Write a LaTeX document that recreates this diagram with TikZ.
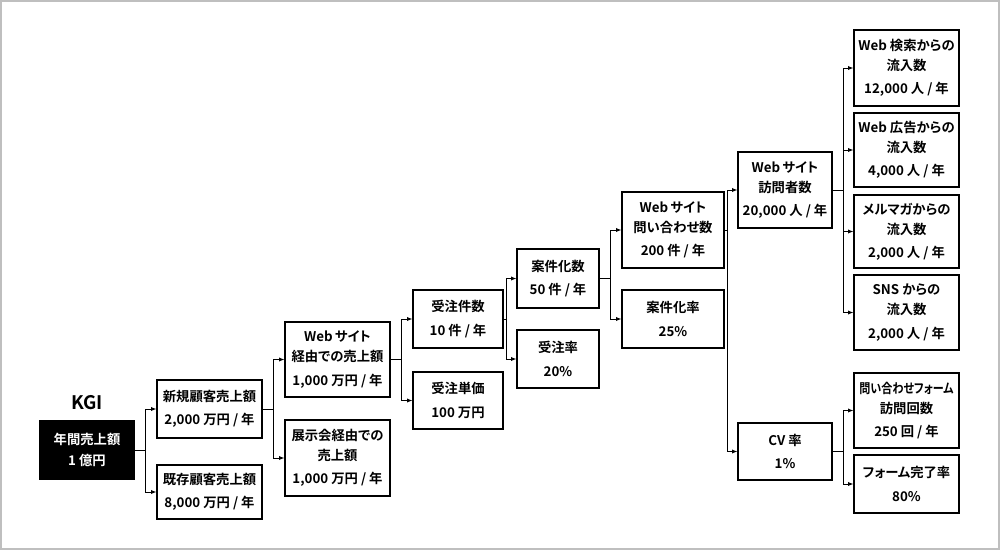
\documentclass[tikz,border=0pt]{standalone}
\usepackage{fontspec}
\setmainfont{Noto Sans CJK JP}[BoldFont={* Bold},RawFeature=+palt]
\usetikzlibrary{arrows.meta}
\begin{document}
\begin{tikzpicture}[x=0.75pt,y=-0.75pt,
  box/.style={draw=black, line width=0.9pt, align=center, inner sep=0pt, font=\bfseries\fontsize{10}{15}\selectfont},
  sz/.style 2 args={minimum width=#1*0.75pt, minimum height=#2*0.75pt},
  conn/.style={line width=0.7pt, -{Latex[length=4pt,width=3.2pt]}},
  lbl/.style={font=\bfseries\fontsize{14}{16}\selectfont}]
\useasboundingbox (0,0) rectangle (1000,550);
\draw[black!25, line width=1.5pt] (1,1) rectangle (999,549);
% nodes
\node[lbl] (kgilabel) at (87,403) {KGI};
\node[box, sz={94}{58}, fill=black, text=white] (kgi) at (87,450) {年間売上額\\[1pt]1 億円};
\node[box, sz={105}{58}] (shinki) at (209.5,409) {新規顧客売上額\\[2.5pt]2,000 万円 / 年};
\node[box, sz={105}{54}] (kizon) at (209.5,492) {既存顧客売上額\\[2.5pt]8,000 万円 / 年};
\node[box, sz={105}{75}] (websales) at (337.5,359.5) {Web\,サイト\\経由での売上額\\[2.5pt]1,000 万円 / 年};
\node[box, sz={105}{76}] (tenji) at (337.5,458) {展示会経由での\\売上額\\[2.5pt]1,000 万円 / 年};
\node[box, sz={90}{58}] (kensu) at (458,319) {受注件数\\[2.5pt]10 件 / 年};
\node[box, sz={90}{57}] (tanka) at (458,400.5) {受注単価\\[2.5pt]100 万円};
\node[box, sz={82}{59}] (ankensu) at (558,278.5) {案件化数\\[2.5pt]50 件 / 年};
\node[box, sz={82}{58}] (juchuritsu) at (558,359) {受注率\\[2.5pt]20\%};
\node[box, sz={102}{76}] (toiawase) at (673,230) {Web\,サイト\\問い合わせ数\\[2.5pt]200 件 / 年};
\node[box, sz={102}{58}] (ankenritsu) at (673,319) {案件化率\\[2.5pt]25\%};
\node[box, sz={94}{76}] (visitors) at (785,190) {Web\,サイト\\訪問者数\\[2.5pt]20,000 人 / 年};
\node[box, sz={94}{57}] (cv) at (785,451.5) {CV 率\\[2.5pt]1\%};
\node[box, sz={105}{76}] (search) at (906.5,68) {Web 検索からの\\流入数\\[2.5pt]12,000 人 / 年};
\node[box, sz={105}{74}] (ad) at (906.5,150) {Web 広告からの\\流入数\\[2.5pt]4,000 人 / 年};
\node[box, sz={105}{73}] (mail) at (906.5,231.5) {メルマガからの\\流入数\\[2.5pt]2,000 人 / 年};
\node[box, sz={105}{75}] (sns) at (906.5,312.5) {SNS からの\\流入数\\[2.5pt]2,000 人 / 年};
\node[box, sz={105}{75}] (formvisit) at (906.5,410.5) {\scalebox{0.83}[1]{問い合わせフォーム}\\訪問回数\\[2.5pt]250 回 / 年};
\node[box, sz={105}{58}] (formdone) at (906.5,484) {フォーム完了率\\[2.5pt]80\%};
% connectors
\draw[conn] (kgi.east) -- ++(11,0) |- (shinki.west);
\draw[conn] (kgi.east) -- ++(11,0) |- (kizon.west);
\draw[conn] (shinki.east) -- ++(11,0) |- (websales.west);
\draw[conn] (shinki.east) -- ++(11,0) |- (tenji.west);
\draw[conn] (websales.east) -- ++(11,0) |- (kensu.west);
\draw[conn] (websales.east) -- ++(11,0) |- (tanka.west);
\draw[conn] (kensu.east) -- ++(3,0) |- (ankensu.west);
\draw[conn] (kensu.east) -- ++(3,0) |- (juchuritsu.west);
\draw[conn] (ankensu.east) -- ++(11,0) |- (toiawase.west);
\draw[conn] (ankensu.east) -- ++(11,0) |- (ankenritsu.west);
\draw[conn] (toiawase.east) -- ++(3,0) |- (visitors.west);
\draw[conn] (toiawase.east) -- ++(3,0) |- (cv.west);
\draw[conn] (visitors.east) -- ++(11,0) |- (search.west);
\draw[conn] (visitors.east) -- ++(11,0) |- (ad.west);
\draw[conn] (visitors.east) -- ++(11,0) |- (mail.west);
\draw[conn] (visitors.east) -- ++(11,0) |- (sns.west);
\draw[conn] (cv.east) -- ++(11,0) |- (formvisit.west);
\draw[conn] (cv.east) -- ++(11,0) |- (formdone.west);
\end{tikzpicture}
\end{document}
